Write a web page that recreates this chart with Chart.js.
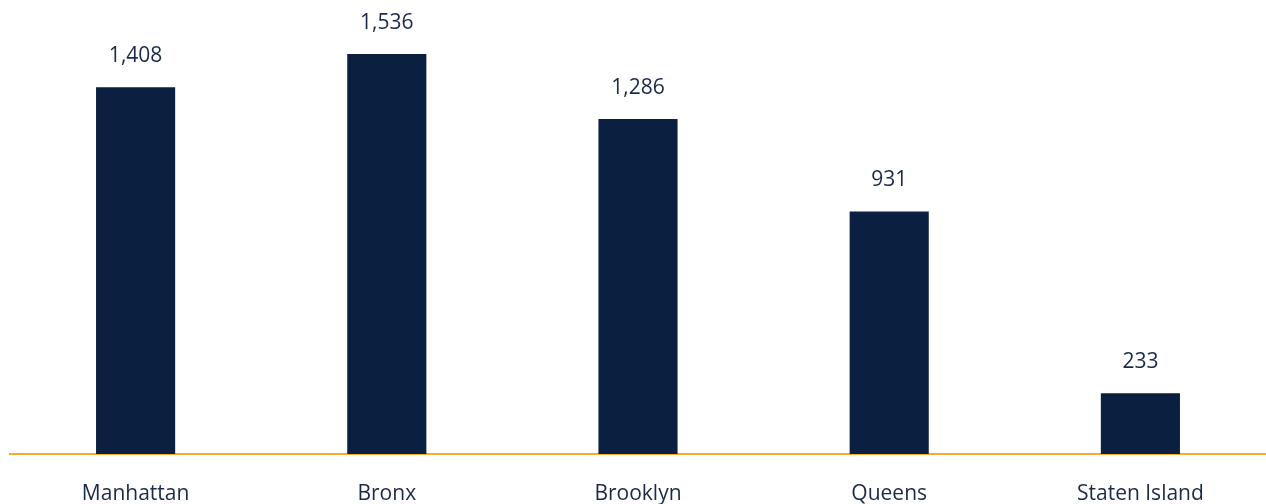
<!DOCTYPE html>
<html>
<head>
<meta charset="utf-8">
<script src="https://cdn.jsdelivr.net/npm/chart.js@4.4.1/dist/chart.umd.min.js"></script>
<style>
html,body{margin:0;padding:0;background:#fff;}
#wrap{width:1266px;height:504px;position:relative;}
</style>
</head>
<body>
<div id="wrap"><canvas id="c"></canvas></div>
<script>
const categories = ["Manhattan", "Bronx", "Brooklyn", "Queens", "Staten Island"];
const values = [1408, 1536, 1286, 931, 233];

const barColor = "#0B1F40";
const textColor = "#1B2A4A";
const axisColor = "#F7A933";

const valueLabels = {
  id: "valueLabels",
  afterDatasetsDraw(chart) {
    const ctx = chart.ctx;
    const meta = chart.getDatasetMeta(0);
    ctx.save();
    ctx.font = "21px 'Open Sans'";
    ctx.fillStyle = textColor;
    ctx.textAlign = "center";
    ctx.textBaseline = "middle";
    meta.data.forEach((bar, i) => {
      ctx.fillText(values[i].toLocaleString("en-US"), bar.x, bar.y - 31);
    });
    ctx.restore();
  }
};

new Chart(document.getElementById("c"), {
  type: "bar",
  data: {
    labels: categories,
    datasets: [{
      data: values,
      backgroundColor: barColor,
      categoryPercentage: 1,
      barPercentage: 0.315
    }]
  },
  options: {
    responsive: true,
    maintainAspectRatio: false,
    animation: false,
    layout: { padding: { left: 10, right: 0, top: 0, bottom: 0 } },
    plugins: { legend: { display: false }, tooltip: { enabled: false } },
    scales: {
      x: {
        grid: { display: false, drawTicks: false },
        border: { display: true, color: axisColor, width: 2 },
        ticks: { color: textColor, font: { family: "'Open Sans'", size: 21 }, padding: 27, maxRotation: 0 },
        afterFit(scale) { scale.height = 50; }
      },
      y: {
        display: false,
        min: 0,
        max: 1743
      }
    }
  },
  plugins: [valueLabels]
});
</script>
</body>
</html>
